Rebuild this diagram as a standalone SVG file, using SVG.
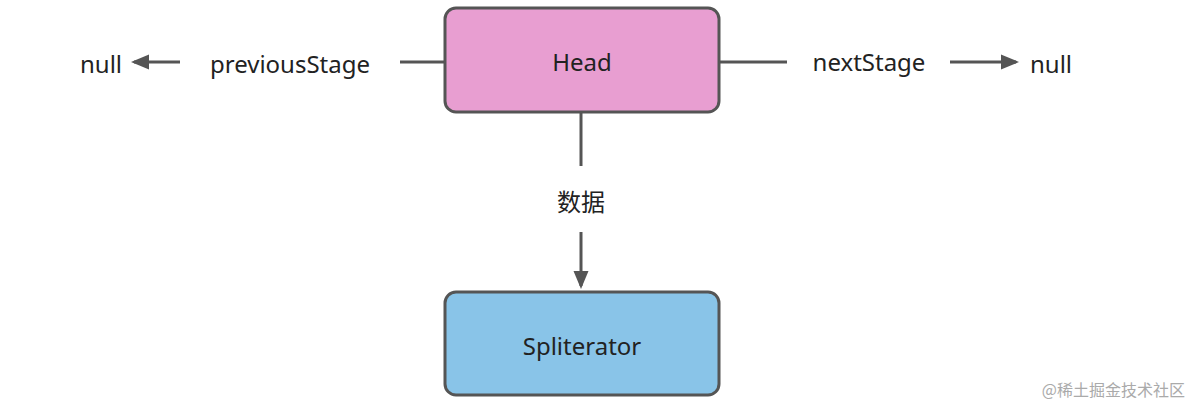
<svg xmlns="http://www.w3.org/2000/svg" width="1200" height="420" viewBox="0 0 1200 420">
<style>
.box{stroke:#555;stroke-width:3}
.t{font-family:"PingFang SC","Noto Sans","Noto Sans CJK SC",sans-serif;font-size:24px;fill:#222;text-anchor:middle;dominant-baseline:central}
.ln{stroke:#555;stroke-width:3;fill:none}
</style>
<defs>
<marker id="a" markerWidth="6" markerHeight="6" refX="5" refY="3" orient="auto" markerUnits="strokeWidth"><path d="M0,0.5L6,3L0,5.5Z" fill="#555"/></marker>
</defs>
<rect width="1200" height="420" fill="#fff"/>
<g id="connectors">
<line class="ln" x1="445" y1="62" x2="400" y2="62"/>
<line class="ln" x1="180" y1="62" x2="134" y2="62" marker-end="url(#a)"/>
<line class="ln" x1="719" y1="62" x2="787" y2="62"/>
<line class="ln" x1="950" y1="62" x2="1016" y2="62" marker-end="url(#a)"/>
<line class="ln" x1="581" y1="112" x2="581" y2="166"/>
<line class="ln" x1="581" y1="232" x2="581" y2="286" marker-end="url(#a)"/>
</g>
<g id="labels">
<text class="t" x="290" y="63">previousStage</text>
<text class="t" x="101" y="63">null</text>
<text class="t" x="869" y="61">nextStage</text>
<text class="t" x="1051" y="63">null</text>
<text class="t" x="581" y="201">数据</text>
</g>
<g id="head"><rect class="box" x="445" y="8" width="274" height="104" rx="11" fill="#e89ed1"/><text class="t" x="582" y="61">Head</text></g>
<g id="spliterator"><rect class="box" x="445" y="292" width="274" height="103" rx="11" fill="#89c4e8"/><text class="t" x="582" y="345">Spliterator</text></g>
<text x="1185" y="396" font-family="Noto Sans CJK SC,sans-serif" font-size="16" fill="#aaa" text-anchor="end">@稀土掘金技术社区</text>
</svg>
